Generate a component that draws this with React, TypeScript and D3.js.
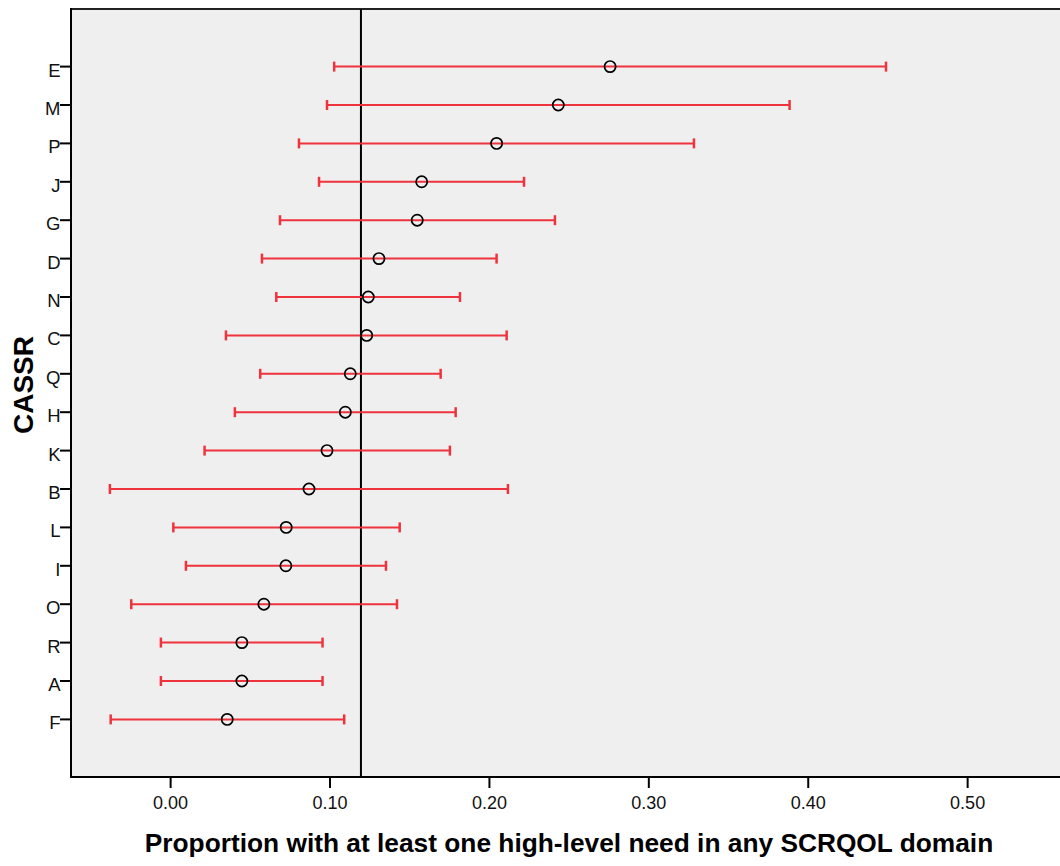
import * as d3 from 'd3';

const width = 1060;
const height = 866;
const plotLeft = 71;
const plotTop = 9;
const plotRight = 1062;
const plotBottom = 777;

// categories from top to bottom
const cassr = ['E', 'M', 'P', 'J', 'G', 'D', 'N', 'C', 'Q', 'H', 'K', 'B', 'L', 'I', 'O', 'R', 'A', 'F'];
const proportion = [0.2757, 0.2432, 0.2045, 0.1575, 0.1547, 0.1307, 0.124, 0.123, 0.1127, 0.1096, 0.0981, 0.0868, 0.0725, 0.0723, 0.0585, 0.0447, 0.0447, 0.0355];
const lowerCI = [0.1026, 0.0981, 0.0805, 0.0931, 0.0686, 0.0573, 0.0663, 0.0347, 0.0562, 0.0403, 0.0213, -0.0381, 0.0017, 0.0096, -0.0247, -0.0061, -0.0061, -0.0376];
const upperCI = [0.4488, 0.3883, 0.3283, 0.2217, 0.2411, 0.2045, 0.1815, 0.2108, 0.1694, 0.1788, 0.1752, 0.2116, 0.1437, 0.1351, 0.142, 0.0953, 0.0953, 0.1089];
const overall = 0.1194;
const xTicks = [0, 0.1, 0.2, 0.3, 0.4, 0.5];

const red = '#ef333d';
const font = '"Liberation Sans", Arial, sans-serif';

export default function App() {
  const x = d3.scaleLinear().domain([-0.0625, 0.5592]).range([plotLeft, plotRight]);
  const y = d3.scalePoint<string>().domain(cassr).range([plotTop, plotBottom]).padding(1.5);
  const fmt = d3.format('.2f');

  return (
    <svg width={width} height={height} style={{ position: 'absolute', left: 0, top: 0, background: '#fff' }}>
      <rect x={plotLeft} y={plotTop} width={plotRight - plotLeft} height={plotBottom - plotTop} fill="#efefef" />
      <line x1={plotLeft} x2={plotRight} y1={plotTop} y2={plotTop} stroke="#222" strokeWidth={2} />

      {/* reference line */}
      <line x1={x(overall)} x2={x(overall)} y1={plotTop} y2={plotBottom} stroke="#000" strokeWidth={2} />

      {cassr.map((c, i) => {
        const cy = y(c)!;
        const x0 = x(lowerCI[i]);
        const x1 = x(upperCI[i]);
        return (
          <g key={c}>
            <line x1={x0} x2={x1} y1={cy} y2={cy} stroke={red} strokeWidth={2} />
            <line x1={x0} x2={x0} y1={cy - 5} y2={cy + 5} stroke={red} strokeWidth={2.5} />
            <line x1={x1} x2={x1} y1={cy - 5} y2={cy + 5} stroke={red} strokeWidth={2.5} />
            <circle cx={x(proportion[i])} cy={cy} r={5.6} fill="none" stroke="#000" strokeWidth={1.7} />
          </g>
        );
      })}

      {/* y axis */}
      <line x1={plotLeft} x2={plotLeft} y1={plotTop - 1} y2={plotBottom + 1} stroke="#000" strokeWidth={2} />
      {cassr.map((c) => (
        <g key={'t' + c}>
          <line x1={plotLeft - 11} x2={plotLeft} y1={y(c)} y2={y(c)} stroke="#000" strokeWidth={2} />
          <text x={plotLeft - 10.5} y={y(c)! + 10} textAnchor="end" fontFamily={font} fontSize={18.5} fill="#111">
            {c}
          </text>
        </g>
      ))}

      {/* x axis */}
      <line x1={plotLeft - 1} x2={plotRight} y1={plotBottom} y2={plotBottom} stroke="#000" strokeWidth={2} />
      {xTicks.map((t) => (
        <g key={t}>
          <line x1={x(t)} x2={x(t)} y1={plotBottom} y2={plotBottom + 11} stroke="#000" strokeWidth={2} />
          <text x={x(t)} y={plotBottom + 31.5} textAnchor="middle" fontFamily={font} fontSize={18} fill="#111">
            {fmt(t)}
          </text>
        </g>
      ))}

      <text x={569} y={851.5} textAnchor="middle" fontFamily={font} fontSize={26.3} fontWeight="bold" fill="#000">
        Proportion with at least one high-level need in any SCRQOL domain
      </text>
      <text
        transform={`translate(32.5,385) rotate(-90)`}
        textAnchor="middle"
        fontFamily={font}
        fontSize={28}
        fontWeight="bold"
        fill="#000"
      >
        CASSR
      </text>
    </svg>
  );
}
